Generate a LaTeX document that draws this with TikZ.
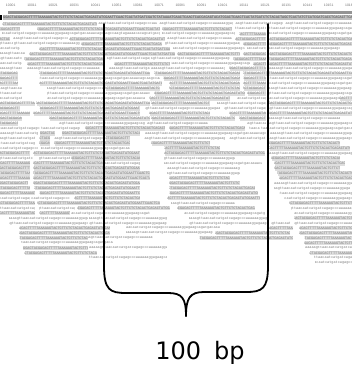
\documentclass[tikz,border=0pt]{standalone}
\usepackage{fontspec}
\newfontfamily\seqmono{Liberation Mono}
\newfontfamily\labfont{DejaVu Sans}
\newfontfamily\rulfont{Liberation Sans}
\def\seqL{aaaaagttaacaatcatgatcagagcccaaaaaaggagaagcagatgacaaaacagcaagccaagtagaaaacacagcatgacgcatcagcgattcgaacatctgacagatgcagtcgcagcagctaaaacaaaagagtttcacgacagctaacaaacacgacagcgatcagcaagtagaaaacacagcatgacg}
\def\seqU{GGACTACGACACTTTTTAAAAAGTACTCTTCTCTACACTCACACTATCGAATTCAACTCACTATGATCGATCTATAAAATCAACTCAACTCACCACAGTACATCGACTCAACTCACTATGATCTCTACACTAGCTCACTATCTCATCGATCACCTCACACTTCAACAGCATCTACTCACTATGATCGATC}
\newcommand\alrow[2]{%
  \pgfmathsetmacro\yy{24+4.98*(#1-1)}%
  \pgfmathsetmacro\offs{mod(#1*7,23)}%
  \foreach \a/\b/\t in {#2}{%
    \begin{scope}
      \clip (\a,\yy-2.1) rectangle (\b,\yy+2.1);
      \ifnum\t=1
        \fill[shadebox] (\a,\yy-2.1) rectangle (\b,\yy+2.1);
        \node[seqtxt] (sq#1-\a) at (\a-\offs,\yy) {\seqU};
      \else
        \node[seqtxt] (sq#1-\a) at (\a-\offs,\yy) {\seqL};
      \fi
    \end{scope}
  }}
\begin{document}
\begin{tikzpicture}[x=1pt,y=-1pt,
  seqtxt/.style={anchor=west,inner sep=0pt,font=\seqmono\fontsize{3.55}{4}\selectfont,text=black!52},
  shadebox/.style={fill=black!13},
  rultxt/.style={inner sep=0pt,font=\rulfont\fontsize{3.4}{4}\selectfont,text=black!55},
  bracket/.style={line width=1.8pt,line join=round,line cap=round},
  lbl/.style={anchor=base,inner sep=0pt,font=\labfont\fontsize{24}{28}\selectfont}]
\useasboundingbox (0,0) rectangle (352,368);
% ruler
\foreach \i in {0,...,16}{
  \pgfmathtruncatemacro\num{10001+10*\i}
  \node[rultxt] (rl\i) at (10.7+21.2*\i,5) {\num};
}
% consensus bar
\fill[black!42] (8,11.4) rectangle (352,14.3);
% first (selected) row
\fill[black] (0,15.2) rectangle (2.2,19.6);
\begin{scope}
  \clip (3,15.3) rectangle (352,19.5);
  \fill[black!25] (3,15.3) rectangle (352,19.5);
  \node[seqtxt,text=black!72] (sq0) at (3,17.4) {\seqU};
\end{scope}
% alignment rows
\alrow{1}{3/97/1, 99/157/0, 160/233/0, 236/283/0, 286/352/0}
\alrow{2}{0/20/1, 38/160/1, 163/232/1, 236/266/0, 270/352/0}
\alrow{3}{3/160/0, 163/235/0, 240/266/1, 270/352/0}
\alrow{4}{0/10/1, 14/68/0, 70/165/1, 168/232/0, 236/266/1, 270/352/1}
\alrow{5}{0/13/0, 15/80/0, 82/162/1, 166/240/0, 244/266/1, 270/352/1}
\alrow{6}{0/20/0, 40/170/1, 174/245/0, 248/266/0, 270/340/0}
\alrow{7}{0/25/0, 30/175/1, 178/240/1, 244/266/1, 270/352/1}
\alrow{8}{0/22/0, 25/103/1, 108/150/0, 152/230/0, 234/266/1, 270/352/1}
\alrow{9}{0/22/0, 28/103/1, 115/170/1, 172/250/0, 254/266/1, 270/352/1}
\alrow{10}{0/22/0, 28/100/0, 110/150/0, 152/225/0, 230/266/1, 270/352/0}
\alrow{11}{0/18/1, 40/150/1, 155/240/1, 244/352/1}
\alrow{12}{0/18/1, 40/160/0, 164/240/1, 244/266/1, 270/352/0}
\alrow{13}{0/18/1, 40/162/1, 170/240/1, 244/266/1, 270/352/0}
\alrow{14}{0/22/0, 48/103/0, 106/160/1, 170/240/1, 244/266/1, 270/352/0}
\alrow{15}{0/22/0, 48/150/0, 155/245/1, 248/266/1, 270/352/0}
\alrow{16}{0/22/0, 48/145/0, 150/230/1, 238/266/0, 270/340/0, 340/352/1}
\alrow{17}{0/35/1, 37/150/1, 152/210/1, 218/266/0, 270/352/1}
\alrow{18}{0/20/1, 40/140/1, 146/220/0, 225/266/0, 270/352/0}
\alrow{19}{0/30/1, 34/140/1, 150/210/1, 230/266/1, 270/352/1}
\alrow{20}{0/22/1, 50/150/1, 152/235/1, 240/266/1, 270/340/0}
\alrow{21}{0/18/1, 60/145/0, 148/208/0, 248/266/0, 270/352/0}
\alrow{22}{0/40/0, 42/80/0, 86/165/1, 170/245/1, 250/260/0, 262/352/0}
\alrow{23}{0/38/0, 40/55/1, 62/140/1, 145/266/0, 270/352/0}
\alrow{24}{0/35/0, 40/50/1, 55/103/0, 106/130/1, 145/225/0, 230/266/0, 270/352/0}
\alrow{25}{0/35/0, 40/50/1, 55/130/1, 152/210/1, 270/340/1}
\alrow{26}{0/38/0, 42/130/0, 165/220/1, 270/350/1}
\alrow{27}{0/30/1, 34/140/1, 165/265/1, 270/352/0}
\alrow{28}{0/33/0, 40/70/0, 72/140/1, 165/235/0, 272/340/1}
\alrow{29}{0/30/1, 34/103/1, 106/140/0, 165/262/0, 275/345/1}
\alrow{30}{0/30/1, 34/140/1, 168/240/0, 275/340/1}
\alrow{31}{0/30/1, 34/150/1, 168/240/0, 278/352/1}
\alrow{32}{0/30/1, 34/150/1, 170/230/1, 280/352/1}
\alrow{33}{0/28/1, 34/140/1, 170/240/1, 275/352/0}
\alrow{34}{0/30/1, 35/140/1, 170/255/1, 275/350/0}
\alrow{35}{0/35/1, 40/140/1, 170/258/1, 280/352/0}
\alrow{36}{0/30/0, 32/70/0, 75/140/1, 168/260/1, 285/352/0}
\alrow{37}{0/35/1, 38/160/1, 172/235/0, 290/352/1}
\alrow{38}{0/35/0, 40/75/0, 78/170/1, 178/255/1, 292/352/0}
\alrow{39}{0/35/1, 40/70/1, 72/150/0, 185/265/0, 295/352/0}
\alrow{40}{10/88/0, 90/167/0, 190/267/0, 295/352/1}
\alrow{41}{10/88/0, 90/167/0, 190/267/0, 272/290/0, 295/352/0}
\alrow{42}{20/110/1, 127/220/0, 270/293/1, 300/352/1}
\alrow{43}{20/110/1, 127/213/0, 216/290/1, 300/352/1}
\alrow{44}{20/88/1, 89/153/0, 200/293/1, 305/352/1}
\alrow{45}{22/113/0, 305/352/1}
\alrow{46}{23/88/1, 89/167/0, 305/352/0}
\alrow{47}{25/97/1, 310/352/1}
\alrow{48}{90/167/0, 315/352/0}
\alrow{49}{316/352/0}
% bracket
\coordinate (lt) at (104,24);
\coordinate (rt) at (268,24);
\coordinate (tip) at (186,316);
\draw[bracket] (lt) -- (104,266) .. controls (104,290) and (110,293) .. (126,293) -- (168,293) .. controls (182,293) and (186,298) .. (tip);
\draw[bracket] (rt) -- (268,266) .. controls (268,289) and (262,292) .. (246,292) -- (204,292) .. controls (190,292) and (186,298) .. (tip);
\node[lbl] (label) at (200,359) {100\hspace{13pt}bp};
\end{tikzpicture}
\end{document}
